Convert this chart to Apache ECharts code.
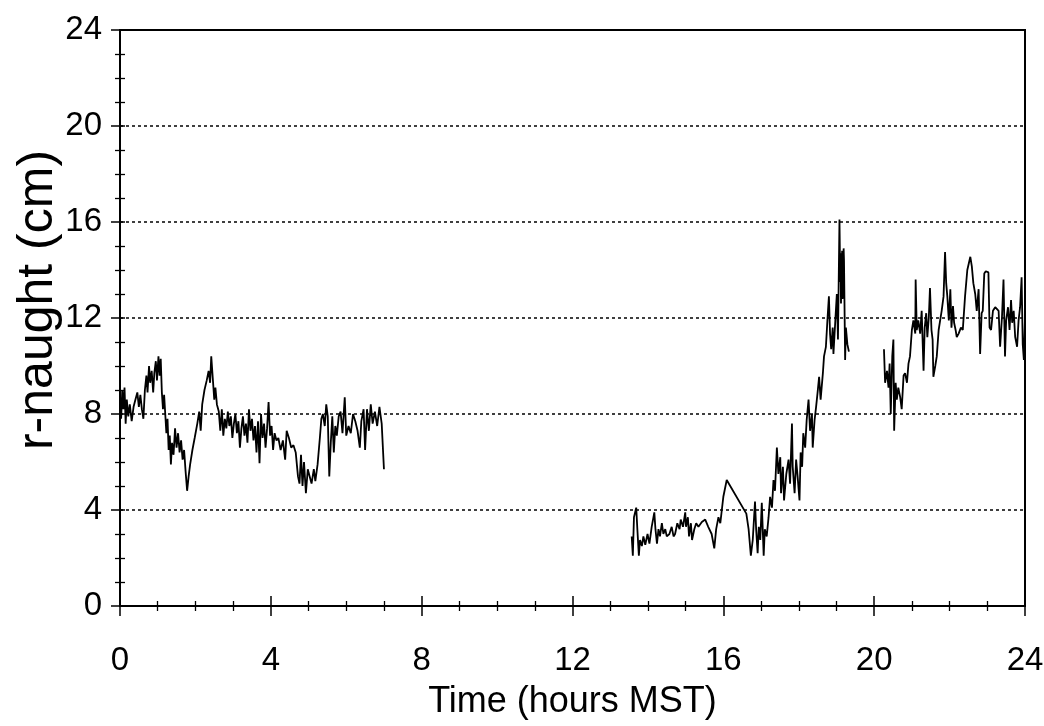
<!DOCTYPE html>
<html>
<head>
<meta charset="utf-8">
<script src="https://cdn.jsdelivr.net/npm/echarts@6/dist/echarts.min.js"></script>
<style>html,body{margin:0;padding:0;background:#fff}#c{width:1044px;height:726px}</style>
</head>
<body>
<div id="c"></div>
<script>
// Axis ticks
const xTicks = [0, 4, 8, 12, 16, 20, 24];
const yTicks = [0, 4, 8, 12, 16, 20, 24];
const xName = 'Time (hours MST)';
const yName = 'r-naught (cm)';

// Segment 1 (early morning)
const seg1Time = [0.00,0.03,0.06,0.09,0.12,0.15,0.18,0.22,0.26,0.31,0.36,0.41,0.46,0.50,0.54,0.58,0.62,0.66,0.70,0.73,0.77,0.80,0.84,0.88,0.91,0.95,0.98,1.02,1.05,1.08,1.11,1.14,1.17,1.20,1.23,1.26,1.29,1.32,1.35,1.38,1.42,1.46,1.50,1.54,1.58,1.62,1.66,1.70,1.74,1.78,1.82,1.86,1.92,1.98,2.05,2.10,2.14,2.18,2.24,2.30,2.35,2.39,2.42,2.46,2.50,2.53,2.57,2.62,2.66,2.70,2.74,2.78,2.82,2.86,2.90,2.94,2.98,3.02,3.06,3.10,3.14,3.18,3.22,3.26,3.30,3.34,3.38,3.42,3.46,3.50,3.54,3.58,3.62,3.66,3.70,3.74,3.78,3.82,3.86,3.90,3.94,3.98,4.02,4.06,4.10,4.15,4.20,4.26,4.32,4.38,4.42,4.48,4.54,4.60,4.66,4.72,4.76,4.80,4.84,4.88,4.93,4.98,5.03,5.08,5.14,5.18,5.24,5.30,5.34,5.38,5.43,5.47,5.51,5.55,5.59,5.63,5.67,5.71,5.75,5.80,5.85,5.90,5.96,6.00,6.06,6.12,6.18,6.24,6.30,6.36,6.40,6.46,6.50,6.55,6.60,6.65,6.70,6.76,6.82,6.88,6.94,7.00];
const seg1Value = [8.8,7.8,9.0,8.2,9.1,7.6,8.6,7.9,8.4,7.7,8.3,8.6,8.9,8.3,8.8,8.2,7.8,9.0,9.6,8.9,10.0,9.3,9.8,8.9,9.7,10.2,9.4,10.4,9.6,10.3,8.9,8.2,8.8,8.0,7.2,7.8,6.5,7.1,5.9,6.8,6.3,7.4,6.6,7.2,6.4,6.9,6.1,6.5,5.6,4.8,5.4,5.9,6.5,7.0,7.6,8.1,7.3,8.4,9.0,9.4,9.8,9.3,10.4,9.5,8.6,9.1,8.4,8.1,7.3,8.2,7.1,7.8,7.4,8.1,7.5,7.9,7.0,7.6,8.0,7.2,7.7,6.6,7.4,7.9,7.1,7.6,6.8,8.2,7.3,7.8,6.9,7.5,6.4,7.7,5.95,8.0,7.0,7.6,6.6,7.4,8.5,7.1,7.5,6.5,7.2,6.9,7.0,6.5,6.9,6.1,7.3,7.0,6.6,6.7,6.4,5.4,5.1,6.3,5.0,6.0,4.7,5.7,5.4,5.1,5.7,5.2,5.9,7.0,7.8,8.0,7.5,8.4,7.9,5.4,6.8,7.9,6.4,7.5,7.1,7.9,8.1,7.2,8.7,7.1,7.5,7.2,8.0,7.7,7.3,6.6,7.7,8.2,6.5,8.2,7.3,8.4,7.6,8.1,7.5,8.3,7.6,5.7];

// Segment 2 (afternoon)
const seg2Time = [13.57,13.60,13.63,13.69,13.72,13.76,13.79,13.84,13.88,13.93,13.99,14.04,14.10,14.17,14.20,14.24,14.28,14.32,14.37,14.41,14.46,14.50,14.57,14.63,14.68,14.72,14.78,14.84,14.87,14.93,14.99,15.01,15.06,15.09,15.14,15.17,15.23,15.28,15.34,15.43,15.52,15.60,15.69,15.76,15.81,15.87,15.92,15.96,16.00,16.09,16.61,16.67,16.73,16.78,16.84,16.87,16.91,16.94,16.98,17.02,17.07,17.10,17.15,17.20,17.24,17.29,17.33,17.37,17.42,17.46,17.51,17.53,17.58,17.61,17.67,17.73,17.77,17.82,17.84,17.89,17.93,17.97,18.02,18.05,18.09,18.12,18.17,18.21,18.26,18.30,18.35,18.37,18.42,18.46,18.50,18.54,18.58,18.64,18.67,18.72,18.76,18.80,18.83,18.86,18.90,18.92,18.97,19.01,19.04,19.08,19.10,19.11,19.12,19.13,19.15,19.16,19.18,19.19,19.20,19.23,19.25,19.29,19.33];
const seg2Value = [2.9,2.1,3.7,4.1,3.2,2.1,2.75,2.5,2.9,2.55,3.0,2.6,3.3,3.9,3.2,2.6,3.2,2.9,3.45,3.0,3.2,2.9,3.0,3.3,2.9,3.0,3.45,3.2,3.6,3.3,3.9,3.3,3.7,2.9,3.45,2.75,3.2,3.45,3.3,3.5,3.6,3.3,3.0,2.4,3.2,3.7,3.45,4.0,4.55,5.25,3.85,3.2,2.1,2.75,4.35,3.2,2.2,3.3,2.75,4.3,2.1,3.2,2.9,3.7,4.55,4.1,5.25,4.8,6.6,5.5,6.2,4.7,5.8,4.4,5.5,6.1,5.1,7.6,5.8,4.7,6.1,5.4,4.4,6.4,5.8,7.2,6.6,7.75,8.6,7.3,8.0,6.6,7.75,8.3,8.9,9.55,8.6,9.7,10.4,10.8,11.9,12.9,11.35,10.7,11.6,10.5,11.9,13.0,11.1,16.1,13.5,14.7,12.6,13.4,14.8,12.8,13.0,14.9,14.4,10.25,11.6,10.9,10.6];

// Segment 3 (evening)
const seg3Time = [20.26,20.29,20.34,20.38,20.41,20.44,20.48,20.51,20.53,20.57,20.60,20.64,20.69,20.73,20.78,20.82,20.87,20.91,20.95,21.00,21.04,21.09,21.10,21.13,21.17,21.22,21.26,21.31,21.34,21.38,21.41,21.45,21.48,21.52,21.55,21.57,21.62,21.66,21.71,21.75,21.79,21.84,21.88,21.91,21.94,21.98,22.02,22.05,22.09,22.12,22.16,22.19,22.24,22.30,22.35,22.41,22.47,22.55,22.59,22.63,22.68,22.72,22.77,22.81,22.85,22.88,22.92,22.96,23.03,23.06,23.10,23.15,23.21,23.30,23.34,23.39,23.43,23.47,23.50,23.55,23.59,23.63,23.66,23.70,23.74,23.79,23.83,23.87,23.91,23.94,23.97,24.00];
const seg3Value = [10.7,9.3,9.8,9.1,10.1,8.0,10.4,11.1,7.3,9.3,8.6,9.1,8.7,8.2,9.6,9.7,9.3,10.1,10.4,11.5,11.9,11.35,13.6,11.5,11.9,11.35,12.3,9.8,11.6,12.2,11.2,12.05,13.25,11.5,11.1,9.55,10.0,10.4,11.5,11.9,12.3,12.9,14.75,13.45,12.9,11.9,13.2,11.6,12.5,11.8,11.5,11.2,11.35,11.6,11.5,12.9,14.0,14.55,14.15,13.45,13.0,12.3,13.2,10.5,12.2,12.3,13.85,13.95,13.9,11.6,11.5,12.3,12.45,12.3,10.8,12.05,13.6,10.4,11.9,12.45,11.5,12.75,11.8,12.3,11.2,10.8,11.9,12.45,13.7,10.9,10.25,12.0];

const pairs = (t, v) => t.map((x, i) => [x, v[i]]);

const black = '#000';
const font = 'Liberation Sans, Arial, sans-serif';
const gridBox = {left: 120, right: 19, top: 30, bottom: 120, containLabel: false, outerBoundsMode: 'none'};

function xAxisDef(primary) {
  return {
    type: 'value', min: 0, max: 24, interval: 4, gridIndex: primary ? 0 : 1, position: 'bottom',
    name: primary ? xName : '', nameLocation: 'middle', nameGap: 78, nameMoveOverlap: false,
    nameTextStyle: {fontFamily: font, fontSize: 36, color: black},
    axisLine: {show: primary, onZero: false, lineStyle: {color: black, width: 2}},
    axisTick: {show: true, inside: !primary, length: 10, lineStyle: {color: black, width: 1.5}},
    minorTick: {show: true, splitNumber: 4, length: 5, lineStyle: {color: black, width: 1.3}},
    axisLabel: {show: primary, fontFamily: font, fontSize: 33, color: black, margin: 38,
      formatter: v => xTicks.includes(v) ? String(v) : ''},
    splitLine: {show: false}
  };
}
function yAxisDef(primary) {
  return {
    type: 'value', min: 0, max: 24, interval: 4, gridIndex: primary ? 0 : 1, position: 'left',
    name: primary ? yName : '', nameLocation: 'middle', nameGap: 57, nameMoveOverlap: false,
    nameTextStyle: {fontFamily: font, fontSize: 50, color: black, padding: [0, 0, 0, 36]},
    axisLine: {show: primary, onZero: false, lineStyle: {color: black, width: 2}},
    axisTick: {show: true, inside: !primary, length: primary ? 9 : 5, lineStyle: {color: black, width: 1.5}},
    minorTick: {show: true, splitNumber: 4, length: 5, lineStyle: {color: black, width: 1.3}},
    axisLabel: {show: primary, fontFamily: font, fontSize: 33, color: black, margin: 18,
      formatter: v => yTicks.includes(v) ? String(v) : ''},
    splitLine: {show: primary, lineStyle: {color: black, width: 1.5, type: [3, 3]}}
  };
}

const lineStyle = {color: black, width: 1.8};
const mk = (t, v) => ({
  type: 'line', data: pairs(t, v), xAxisIndex: 0, yAxisIndex: 0,
  showSymbol: false, symbol: 'none',
  lineStyle: lineStyle, itemStyle: {color: black}, animation: false, silent: true
});

const chart = echarts.init(document.getElementById('c'), null, {renderer: 'canvas'});
chart.setOption({
  backgroundColor: '#fff',
  animation: false,
  grid: [
    Object.assign({show: true, borderColor: black, borderWidth: 2, backgroundColor: 'transparent'}, gridBox),
    Object.assign({show: false}, gridBox)
  ],
  xAxis: [xAxisDef(true), xAxisDef(false)],
  yAxis: [yAxisDef(true), yAxisDef(false)],
  series: [mk(seg1Time, seg1Value), mk(seg2Time, seg2Value), mk(seg3Time, seg3Value)]
});
</script>
</body>
</html>
